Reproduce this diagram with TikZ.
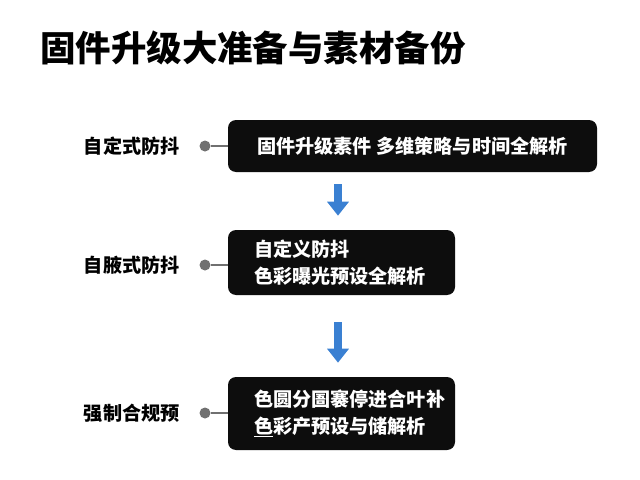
\documentclass[tikz,border=0pt]{standalone}
\usepackage{fontspec}
\newfontfamily\cjk{Noto Sans CJK SC}
\usetikzlibrary{arrows.meta}

\definecolor{arrowblue}{HTML}{3A80D2}
\definecolor{dotgray}{HTML}{707070}

\begin{document}
\begin{tikzpicture}[x=0.025cm,y=-0.025cm,
    stepbox/.style={fill=black!95, rounded corners=8*0.025cm, text=white, font=\cjk\bfseries\fontsize{13.6}{19.2}\selectfont, align=left, inner xsep=26*0.025cm},
    sidelabel/.style={anchor=west, font=\cjk\bfseries\fontsize{13.6}{16}\selectfont},
    pin/.style={circle, fill=dotgray, inner sep=0pt, minimum size=11*0.025cm},
    flow/.style={arrowblue, line width=8*0.025cm, shorten >=14*0.025cm, -{Triangle[width=21*0.025cm,length=14*0.025cm]}}]
                \useasboundingbox[fill=white] (0,0) rectangle (640,480);
                \node[anchor=west, font=\cjk\bfseries\fontsize{25.2}{30}\selectfont, inner sep=0pt] (title) at (40,48) {固件升级大准备与素材备份};

                \node[stepbox, minimum width=369*0.025cm, minimum height=52*0.025cm, inner xsep=0pt] (box1) at (412.5,146) {固件升级素件 多维策略与时间全解析};
                \node[stepbox, text width=175*0.025cm, minimum height=65*0.025cm] (box2) at (341.5,262.5) {自定义防抖\\色彩曝光预设全解析};
                \node[stepbox, text width=175*0.025cm, minimum height=73*0.025cm] (box3) at (341.5,413.5) {色圆分圄褰停进合叶补\\\underline{色}彩产预设与储解析};

                \node[sidelabel] (lab1) at (79,146) {自定式防抖};
                \node[sidelabel] (lab2) at (79,265) {自腋式防抖};
                \node[sidelabel] (lab3) at (79,413) {强制合规预};

                \node[pin] (pin1) at (205,146) {};
                \node[pin] (pin2) at (205,265) {};
                \node[pin] (pin3) at (205,413) {};
                \draw[dotgray, line width=1pt] (pin1) -- (box1.west |- pin1);
                \draw[dotgray, line width=1pt] (pin2) -- (box2.west |- pin2);
                \draw[dotgray, line width=1pt] (pin3) -- (box3.west |- pin3);

                \coordinate (a1) at (338,184);
                \coordinate (a2) at (338,322);
                \draw[flow] (a1) -- (a1 |- box2.north);
                \draw[flow] (a2) -- (a2 |- box3.north);
\end{tikzpicture}
\end{document}
